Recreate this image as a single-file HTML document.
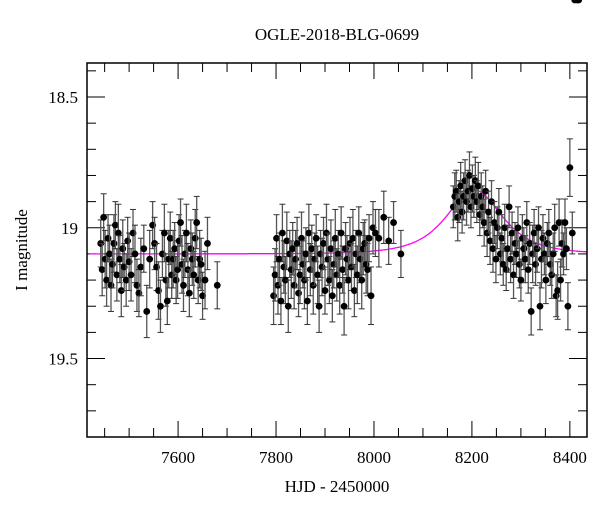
<!DOCTYPE html>
<html><head><meta charset="utf-8"><style>
body{margin:0;background:#fff;overflow:hidden;}
svg text{font-family:"Liberation Serif",serif;fill:#000;}
</style></head><body>
<svg id="chart" width="600" height="512" viewBox="0 0 600 512" xmlns="http://www.w3.org/2000/svg">
<text x="337" y="40" font-size="17" text-anchor="middle">OGLE-2018-BLG-0699</text>
<text x="337" y="492" font-size="17" text-anchor="middle">HJD - 2450000</text>
<text x="0" y="0" font-size="17" text-anchor="middle" transform="translate(27,250) rotate(-90)">I magnitude</text>
<g id="grid"></g>
<g id="model"></g>
<g id="pts"></g>
<rect x="87" y="63" width="500" height="374" fill="none" stroke="#000" stroke-width="1.5"/>
</svg>
<script>
const times=[7442,7445,7448,7451,7454,7457,7460,7463,7466,7469,7472,7475,7478,7481,7484,7487,7490,7494,7497,7500,7504,7508,7512,7516,7520,7524,7530,7536,7542,7548,7552,7556,7560,7564,7568,7572,7575,7578,7581,7584,7587,7590,7593,7596,7599,7602,7605,7608,7611,7614,7617,7620,7623,7626,7629,7632,7635,7638,7641,7644,7647,7650,7655,7660,7680,
7795,7798,7801,7804,7807,7810,7813,7816,7819,7822,7825,7828,7831,7834,7837,7840,7843,7846,7849,7852,7855,7858,7861,7864,7867,7870,7873,7876,7879,7882,7885,7888,7891,7894,7897,7900,7903,7906,7909,7912,7915,7918,7921,7924,7927,7930,7933,7936,7939,7942,7945,7948,7951,7954,7957,7960,7963,7966,7969,7972,7975,7978,7981,7984,7987,7990,7994,7998,8003,8010,8020,8030,8040,8055,
8162,8165,8168,8171,8174,8177,8180,8183,8186,8189,8192,8195,8198,8201,8204,8207,8210,8213,8216,8219,8222,8225,8228,8231,8234,8237,8240,8243,8246,8249,8252,8255,8258,8261,8264,8267,8270,8273,8276,8279,8282,8285,8288,8291,8294,8297,8300,8303,8306,8309,8312,8315,8318,8321,8324,8327,8330,8333,8336,8339,8342,8345,8348,8351,8354,8357,8360,8363,8366,8369,8372,8375,8378,8381,8384,8387,8390,8393,8396,8400,8405,8410,8415,8418];
const mags=[19.06,19.16,18.96,19.12,19.2,19.04,19.1,19.22,19.14,19.06,18.99,19.18,19.02,19.12,19.24,19.08,19.15,19.2,19.05,19.13,19.18,19.02,19.1,19.22,19.25,19.15,19.08,19.32,19.12,18.99,19.06,19.15,19.24,19.3,19.1,19.02,19.2,19.28,19.12,19.04,19.18,19.12,19.08,19.2,19.16,19.05,18.98,19.14,19.22,19.1,19.02,19.16,19.25,19.08,19.12,19.18,19.04,18.98,19.2,19.12,19.14,19.26,19.2,19.06,19.22,
19.26,19.18,19.04,19.22,19.12,19.28,19.02,19.15,19.2,19.05,19.3,19.1,19.16,19.08,19.22,19.12,19.06,19.25,19.18,19.04,19.14,19.2,19.1,19.28,19.02,19.16,19.08,19.22,19.12,19.04,19.18,19.3,19.1,19.15,19.06,19.24,19.02,19.12,19.2,19.08,19.26,19.14,19.04,19.18,19.1,19.22,19.02,19.16,19.3,19.08,19.12,19.2,19.06,19.15,19.04,19.24,19.1,19.18,19.02,19.12,19.2,19.08,19.06,19.14,19.16,19.04,19.26,19.0,19.02,19.04,18.96,
19.05,18.98,19.1,18.92,18.88,18.86,18.96,18.9,18.84,18.94,18.88,18.82,18.9,18.86,18.8,18.92,18.85,18.88,18.82,18.9,18.84,18.95,18.88,18.92,18.98,18.86,19.02,18.94,19.05,18.9,19.08,18.98,19.12,19.0,18.94,19.1,19.04,19.14,19.0,19.16,19.08,18.92,19.12,19.02,19.18,19.06,19.1,19.0,19.14,19.2,19.04,19.08,19.12,18.98,19.16,19.06,19.32,19.1,19.02,19.14,19.08,19.0,19.3,19.12,19.04,19.1,19.2,19.06,19.02,19.14,19.18,19.1,19.0,19.26,19.24,18.98,19.2,19.06,19.1,18.98,19.08,19.3,18.77,19.02];
const errs=[0.09,0.1,0.09,0.11,0.1,0.09,0.11,0.1,0.09,0.11,0.09,0.1,0.11,0.09,0.1,0.11,0.09,0.1,0.09,0.11,0.1,0.09,0.11,0.1,0.09,0.11,0.09,0.1,0.11,0.09,0.1,0.09,0.11,0.1,0.09,0.11,0.1,0.09,0.11,0.1,0.09,0.11,0.1,0.09,0.11,0.1,0.09,0.11,0.1,0.09,0.11,0.1,0.09,0.11,0.1,0.09,0.11,0.1,0.09,0.11,0.1,0.09,0.11,0.1,0.09,
0.11,0.1,0.09,0.11,0.1,0.09,0.11,0.1,0.09,0.11,0.1,0.09,0.11,0.1,0.09,0.11,0.1,0.09,0.11,0.1,0.09,0.11,0.1,0.09,0.11,0.1,0.09,0.11,0.1,0.09,0.11,0.1,0.09,0.11,0.1,0.09,0.11,0.1,0.09,0.11,0.1,0.09,0.11,0.1,0.09,0.11,0.1,0.09,0.11,0.1,0.09,0.11,0.1,0.09,0.11,0.1,0.09,0.11,0.1,0.09,0.11,0.1,0.09,0.11,0.1,0.09,0.11,0.1,0.09,0.11,0.1,0.09,
0.08,0.09,0.08,0.09,0.08,0.09,0.08,0.09,0.08,0.09,0.08,0.09,0.08,0.09,0.08,0.09,0.08,0.09,0.08,0.09,0.08,0.09,0.08,0.09,0.08,0.09,0.08,0.09,0.08,0.09,0.08,0.09,0.08,0.09,0.08,0.09,0.08,0.09,0.08,0.09,0.08,0.09,0.08,0.09,0.08,0.09,0.08,0.09,0.08,0.09,0.08,0.09,0.08,0.09,0.08,0.09,0.11,0.09,0.08,0.09,0.08,0.09,0.11,0.09,0.08,0.09,0.08,0.09,0.08,0.09,0.08,0.09,0.08,0.11,0.09,0.08,0.09,0.08,0.09,0.08,0.09,0.11,0.08,0.09];
const xTicks=[7600,7800,8000,8200,8400];
const yTicks=[18.5,19,19.5];
const modelParams=[8205,1.15,63,19.10]; // t0, u0, tE, baseline

const X0=87,X1=587,Y0=63,Y1=437;
const xmin=7414,xmax=8435,ymin=18.37,ymax=19.80;
const sx=v=>X0+(v-xmin)/(xmax-xmin)*(X1-X0);
const sy=m=>Y0+(m-ymin)/(ymax-ymin)*(Y1-Y0);
const NS='http://www.w3.org/2000/svg';
function mk(tag,attrs,parent){const e=document.createElementNS(NS,tag);for(const k in attrs)e.setAttribute(k,String(attrs[k]));parent.appendChild(e);return e;}
const g=document.getElementById('grid');
for(let k=0;k<20;k++){const v=7450+k*50;const maj=(v%200===0);const L=maj?16:9;
 const t=mk('line',{x1:sx(v),x2:sx(v),y1:Y1,y2:Y1-L,stroke:'#000','stroke-width':1},g);
 
 
 const t2=mk('line',{x1:sx(v),x2:sx(v),y1:Y0,y2:Y0+L,stroke:'#000','stroke-width':1},g);
 
 }
for(let k=184;k<=197;k++){const m=k/10;const maj=(k%5===0);const L=maj?18:9;
 const t=mk('line',{x1:X0,x2:X0+L,y1:sy(m),y2:sy(m),stroke:'#000','stroke-width':1},g);
 
 
 const t2=mk('line',{x1:X1,x2:X1-L,y1:sy(m),y2:sy(m),stroke:'#000','stroke-width':1},g);
 
 }
xTicks.forEach(v=>{const t=mk('text',{x:sx(v),y:463,'font-size':17,'text-anchor':'middle'},g);t.textContent=v;
 
 });
yTicks.forEach(v=>{const t=mk('text',{x:78,y:sy(v)+6,'font-size':17,'text-anchor':'end'},g);t.textContent=v;
 
 });
const [t0,u0,tE,base]=modelParams;let d='';
for(let t=xmin+5;t<=xmax;t+=2){const tau=(t-t0)/tE;const u=Math.sqrt(u0*u0+tau*tau);const A=(u*u+2)/(u*Math.sqrt(u*u+4));const m=base-2.5*Math.log10(A);d+=(d?'L':'M')+sx(t).toFixed(1)+','+sy(m).toFixed(1);}
const mp=mk('path',{d:d,fill:'none',stroke:'#ff00ff','stroke-width':1.3},document.getElementById('model'));


const pg=document.getElementById('pts');
times.forEach((t,i)=>{const x=sx(t),y=sy(mags[i]),ya=sy(mags[i]-errs[i]),yb=sy(mags[i]+errs[i]);
 const gg=mk('g',{},pg);
 
 
 mk('line',{x1:x,x2:x,y1:ya,y2:yb,stroke:'#555','stroke-width':1.3},gg);
 mk('line',{x1:x-3,x2:x+3,y1:ya,y2:ya,stroke:'#333','stroke-width':1},gg);
 mk('line',{x1:x-3,x2:x+3,y1:yb,y2:yb,stroke:'#333','stroke-width':1},gg);
 mk('circle',{cx:x,cy:y,r:3.4,fill:'#000'},gg);});
</script>
</body></html>
